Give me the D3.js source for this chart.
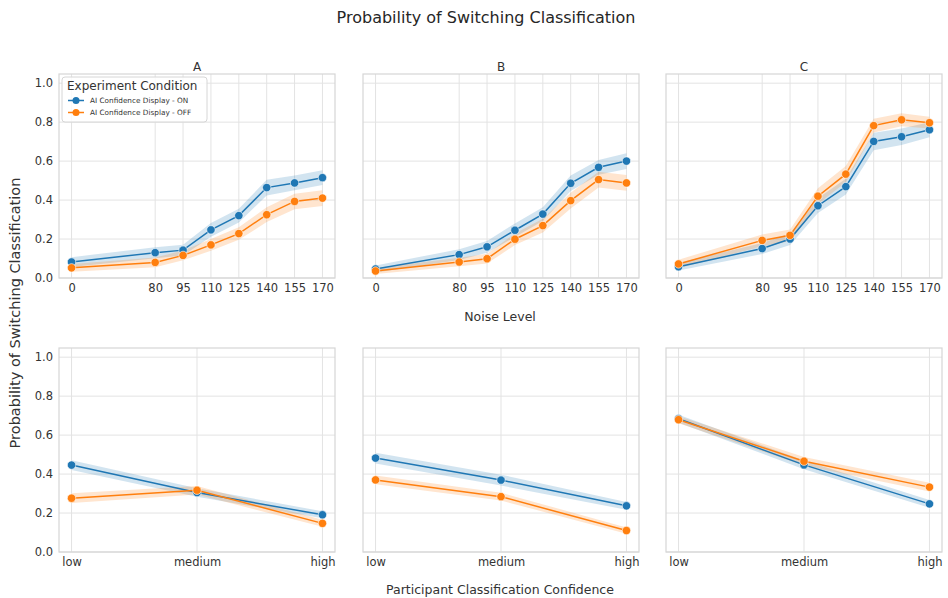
<!DOCTYPE html>
<html><head><meta charset="utf-8">
<script src="https://cdn.jsdelivr.net/npm/d3@7"></script>
<style>body{margin:0;background:#fff}text{font-family:"DejaVu Sans",sans-serif}</style>
</head><body>
<svg id="chart" width="948" height="598"></svg>
<script>
const panels = ["A", "B", "C"];
const noiseLevels = [0, 80, 95, 110, 125, 140, 155, 170];
const confLevels = ["low", "medium", "high"];
const seriesNames = ["AI Confidence Display - ON", "AI Confidence Display - OFF"];
const yTicks = [0.0, 0.2, 0.4, 0.6, 0.8, 1.0];

// Top row: probability by noise level [panel][series]
const noiseOn = [
  [0.082, 0.130, 0.143, 0.247, 0.320, 0.464, 0.488, 0.515],
  [0.046, 0.120, 0.160, 0.245, 0.328, 0.486, 0.568, 0.600],
  [0.058, 0.151, 0.200, 0.371, 0.469, 0.701, 0.725, 0.761]
];
const noiseOff = [
  [0.052, 0.080, 0.116, 0.170, 0.228, 0.325, 0.393, 0.410],
  [0.036, 0.082, 0.099, 0.199, 0.269, 0.397, 0.505, 0.488],
  [0.072, 0.193, 0.219, 0.420, 0.533, 0.782, 0.812, 0.797]
];
// CI half widths
const noiseOnCI = [
  [0.025, 0.028, 0.028, 0.035, 0.035, 0.040, 0.038, 0.038],
  [0.018, 0.028, 0.030, 0.035, 0.035, 0.040, 0.038, 0.040],
  [0.020, 0.028, 0.030, 0.038, 0.040, 0.045, 0.042, 0.038]
];
const noiseOffCI = [
  [0.020, 0.025, 0.025, 0.030, 0.032, 0.038, 0.040, 0.040],
  [0.015, 0.022, 0.025, 0.030, 0.035, 0.040, 0.040, 0.040],
  [0.022, 0.030, 0.030, 0.040, 0.042, 0.035, 0.033, 0.030]
];
// Bottom row: probability by participant confidence
const confOn = [
  [0.446, 0.305, 0.191],
  [0.482, 0.369, 0.237],
  [0.684, 0.447, 0.247]
];
const confOff = [
  [0.276, 0.317, 0.147],
  [0.370, 0.284, 0.110],
  [0.679, 0.466, 0.333]
];
const confOnCI = [
  [0.025, 0.022, 0.018],
  [0.028, 0.028, 0.020],
  [0.020, 0.022, 0.020]
];
const confOffCI = [
  [0.025, 0.022, 0.018],
  [0.022, 0.020, 0.016],
  [0.018, 0.022, 0.022]
];

const colors = ["#1f77b4", "#ff7f0e"];
const svg = d3.select("#chart");
const panelX = [59, 363, 666];
const panelW = 276;
const rows = [{top: 74, bottom: 278}, {top: 348, bottom: 552}];
const textColor = "#333333";

function drawPanel(px, row, xScale, xTicks, xFmt, data, ciData, title, showY) {
  const g = svg.append("g");
  const y = d3.scaleLinear().domain([0, 1.047]).range([row.bottom, row.top]);
  // grid
  g.selectAll(".gy").data(yTicks).enter().append("line")
    .attr("x1", px).attr("x2", px + panelW)
    .attr("y1", d => y(d)).attr("y2", d => y(d))
    .attr("stroke", "#e3e3e3").attr("stroke-width", 1);
  g.selectAll(".gx").data(xTicks).enter().append("line")
    .attr("x1", d => xScale(d)).attr("x2", d => xScale(d))
    .attr("y1", row.top).attr("y2", row.bottom)
    .attr("stroke", "#e3e3e3").attr("stroke-width", 1);
  // frame
  g.append("rect").attr("x", px).attr("y", row.top).attr("width", panelW).attr("height", row.bottom - row.top)
    .attr("fill", "none").attr("stroke", "#d6d6d6").attr("stroke-width", 1.2);
  // axes via d3 axis
  const xAxis = d3.axisBottom(xScale).tickValues(xTicks).tickFormat(xFmt).tickSize(0).tickPadding(6);
  const xa = g.append("g").attr("transform", `translate(0,${row.bottom})`).call(xAxis);
  xa.select(".domain").remove();
  xa.selectAll("text").attr("fill", textColor).style("font-size", "11.5px");
  if (showY) {
    const yAxis = d3.axisLeft(y).tickValues(yTicks).tickFormat(d3.format(".1f")).tickSize(0).tickPadding(6);
    const ya = g.append("g").attr("transform", `translate(${px},0)`).call(yAxis);
    ya.select(".domain").remove();
    ya.selectAll("text").attr("fill", textColor).style("font-size", "11.5px");
  }
  if (title) {
    g.append("text").attr("x", px + panelW / 2).attr("y", row.top - 3).attr("text-anchor", "middle")
      .attr("fill", textColor).style("font-size", "12px").text(title);
  }
  // series
  data.forEach((vals, si) => {
    const pts = xTicks.map((xv, i) => ({x: xv, v: vals[i], ci: ciData[si][i]}));
    const area = d3.area().x(d => xScale(d.x)).y0(d => y(d.v - d.ci)).y1(d => y(d.v + d.ci));
    g.append("path").datum(pts).attr("d", area).attr("fill", colors[si]).attr("fill-opacity", 0.2);
  });
  data.forEach((vals, si) => {
    const pts = xTicks.map((xv, i) => ({x: xv, v: vals[i]}));
    const line = d3.line().x(d => xScale(d.x)).y(d => y(d.v));
    g.append("path").datum(pts).attr("d", line).attr("fill", "none").attr("stroke", colors[si]).attr("stroke-width", 1.5);
    g.selectAll(null).data(pts).enter().append("circle")
      .attr("cx", d => xScale(d.x)).attr("cy", d => y(d.v)).attr("r", 4.2)
      .attr("fill", colors[si]).attr("stroke", "#fff").attr("stroke-width", 0.6);
  });
}

panels.forEach((p, i) => {
  const px = panelX[i];
  const step = (panelW) / 9.9;
  const x0 = px + step * 0.45;
  const xTop = d3.scaleLinear().domain([0, 80, 170]).range([x0, x0 + 3 * step, x0 + 9 * step]);
  drawPanel(px, rows[0], xTop, noiseLevels, d => d, [noiseOn[i], noiseOff[i]], [noiseOnCI[i], noiseOffCI[i]], p, i === 0);
  const xBot = d3.scalePoint().domain(confLevels).range([x0, x0 + 9 * step]);
  drawPanel(px, rows[1], xBot, confLevels, d => d, [confOn[i], confOff[i]], [confOnCI[i], confOffCI[i]], null, i === 0);
});

// titles and labels
svg.append("text").attr("x", 486).attr("y", 23).attr("text-anchor", "middle").attr("fill", "#262626")
  .style("font-size", "16px").text("Probability of Switching Classification");
svg.append("text").attr("x", 500).attr("y", 321).attr("text-anchor", "middle").attr("fill", textColor)
  .style("font-size", "12.5px").text("Noise Level");
svg.append("text").attr("x", 500).attr("y", 594).attr("text-anchor", "middle").attr("fill", textColor)
  .style("font-size", "12.5px").text("Participant Classification Confidence");
svg.append("text").attr("transform", "translate(20,313) rotate(-90)").attr("text-anchor", "middle").attr("fill", textColor)
  .style("font-size", "14.5px").text("Probability of Switching Classification");

// legend
const lg = svg.append("g");
lg.append("rect").attr("x", 62).attr("y", 77).attr("width", 145).attr("height", 45).attr("rx", 3)
  .attr("fill", "#fff").attr("fill-opacity", 0.85).attr("stroke", "#d6d6d6").attr("stroke-width", 1);
lg.append("text").attr("x", 67).attr("y", 90).attr("fill", textColor).style("font-size", "12px").text("Experiment Condition");
seriesNames.forEach((n, i) => {
  const cy = 100.5 + i * 12;
  lg.append("line").attr("x1", 68).attr("x2", 84).attr("y1", cy).attr("y2", cy).attr("stroke", colors[i]).attr("stroke-width", 1.5);
  lg.append("circle").attr("cx", 76).attr("cy", cy).attr("r", 3.5).attr("fill", colors[i]);
  lg.append("text").attr("x", 90).attr("y", cy + 2.6).attr("fill", textColor).style("font-size", "7.3px").text(n);
});
</script>
</body></html>
